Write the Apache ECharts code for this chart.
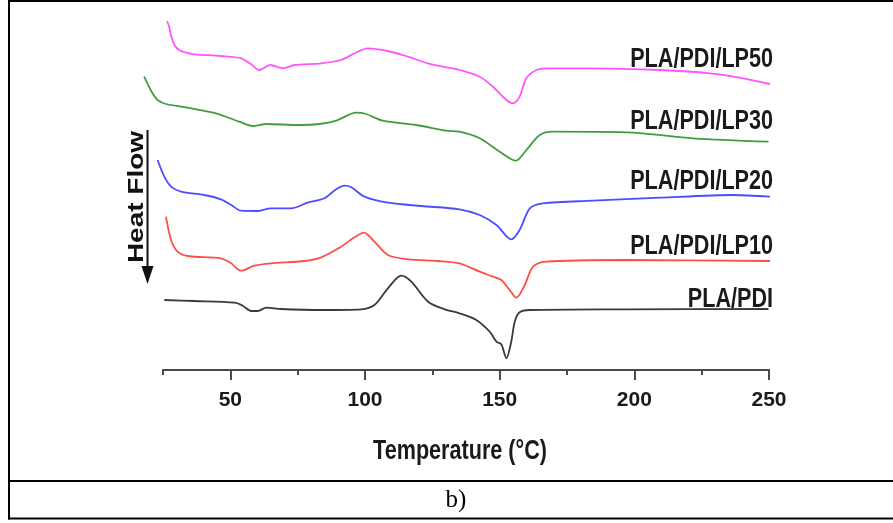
<!DOCTYPE html>
<html>
<head>
<meta charset="utf-8">
<script src="https://cdn.jsdelivr.net/npm/echarts@6/dist/echarts.min.js"></script>
<style>html,body{margin:0;padding:0;background:#fff}#c{width:893px;height:523px}</style>
</head>
<body>
<div id="c"></div>
<script>
// ---- data (temperature °C, heat flow in arbitrary units) ----
const seriesNames = ['PLA/PDI/LP50', 'PLA/PDI/LP30', 'PLA/PDI/LP20', 'PLA/PDI/LP10', 'PLA/PDI'];
const seriesColors = ['#ff55ff', '#3f9c3f', '#4d4dff', '#ff4d4d', '#3a3a3a'];

const lp50 = [[26.5,349],[27.3,343.3],[28.1,333.3],[29.4,324.3],[31,320],[33.5,317.3],[36.6,315.7],[46.5,314],[54,311.7],[57.7,305.7],[60.8,300],[64.9,305],[69.5,301.7],[73.8,305],[83.7,306.7],[91.1,310],[96.1,316.7],[101,321.7],[108.5,319],[115.9,313.3],[123.3,306.7],[130.8,302.3],[135.1,300],[142.6,293.3],[147.5,283.3],[152.5,270],[155,266.7],[157.4,273.3],[159.9,291.7],[163.6,300],[167.3,301.7],[184.7,301.7],[209.5,300],[228.1,296.7],[240.5,291.7],[250.4,286]];
const lp30 = [[18,293.3],[19.2,286.7],[21.1,276.7],[23,270],[26.1,266],[33.5,262.7],[44.7,256.7],[53.3,248.3],[58.3,244],[63.3,246],[75.7,245],[83.1,246],[89.3,249.3],[96.7,257.3],[100.4,256],[106.6,249.3],[119,245],[130.2,239.3],[135.1,238.3],[142.6,231.7],[150,218.3],[156,209.3],[159.9,220],[164.9,235],[169.8,238.3],[197.1,237.7],[221.9,231.7],[249.8,228.3]];
const lp20 = [[23,210],[25.5,193.3],[28,183.3],[31.7,178.3],[40.3,175],[46.5,170.7],[50.3,165],[54,159.3],[60.2,159],[65.1,161.7],[72.6,161.7],[78.7,167.3],[84.9,171.7],[89.3,180.7],[92.4,184.3],[94.9,182.7],[99.8,173.3],[108.5,167.3],[120.9,164],[135.1,160.7],[142.6,155],[148.8,145],[154.3,130.7],[157.4,140],[161.2,161.7],[166.1,166.7],[184.7,169.3],[209.5,172.3],[236.7,175],[250.4,173.3]];
const lp10 = [[26.1,153.3],[28,130],[30.4,118.3],[34.1,114],[46.5,111.7],[50.3,106.7],[54,99.3],[58.9,104.3],[65.1,106.7],[77.5,109],[83.7,112.7],[91.1,123.3],[96.1,132.7],[99.6,137.3],[103.5,128.3],[108.5,115],[115.9,110.7],[127.1,109],[135.1,106.7],[142.6,98.3],[147.5,93.3],[150.6,90],[153.7,80],[156.2,72.3],[159.3,85],[162.4,103.3],[167.3,108.3],[197.1,110],[250.4,109]];
const plaPdi = [[25.5,70],[36.6,69],[51.5,67.3],[54.6,64.3],[57.7,59],[60.2,59],[63.3,62.3],[68.8,61],[83.7,60],[98.6,60.7],[103.5,65],[108.5,81.7],[113.5,94.3],[117.2,88.3],[123.4,68.3],[129.6,60.7],[135.1,56.7],[141.3,50],[146.3,38.3],[148.8,28.3],[150.6,25.7],[152.5,11.7],[154.3,28.3],[155.6,48.3],[157.4,57.7],[161.2,60],[197.1,60.7],[249.8,61]];
const seriesData = [lp50, lp30, lp20, lp10, plaPdi];

// label anchors: right edge temperature and heat-flow level of each curve name
const labelTemp = 251.5;
const labelLevels = [310, 248.3, 188.3, 123.3, 70];

const axisMin = 25, axisMax = 250;       // drawn axis
const majorMin = 50, majorStep = 50;     // labelled ticks 50..250
const minorStep = 25;                    // small ticks every 25
const plotMin = 15;                      // curves start slightly left of the axis
const yMin = 0, yMax = 370;

const gridLeft = 163, gridRight = 124, gridTop = 0, gridBottom = 153;
const pxPerUnit = (893 - gridLeft - gridRight) / (axisMax - axisMin);

const chart = echarts.init(document.getElementById('c'), null, {renderer: 'canvas'});
const tickColor = '#4a4a4a';

chart.setOption({
  animation: false,
  backgroundColor: '#fff',
  grid: [
    {left: gridLeft, right: gridRight, top: gridTop, bottom: gridBottom},
    {left: gridLeft + (majorMin - axisMin) * pxPerUnit, right: gridRight, top: gridTop, bottom: gridBottom},
    {left: gridLeft - (axisMin - plotMin) * pxPerUnit, right: gridRight, top: gridTop, bottom: gridBottom}
  ],
  xAxis: [
    {gridIndex: 0, type: 'value', min: axisMin, max: axisMax, interval: minorStep, position: 'bottom',
      splitLine: {show: false},
      axisLine: {show: true, onZero: false, lineStyle: {color: tickColor, width: 2}},
      axisTick: {show: true, length: 5, lineStyle: {color: tickColor, width: 2}},
      axisLabel: {show: false}},
    {gridIndex: 1, type: 'value', min: majorMin, max: axisMax, interval: majorStep, position: 'bottom',
      splitLine: {show: false},
      axisLine: {show: true, onZero: false, lineStyle: {color: tickColor, width: 2}},
      axisTick: {show: true, length: 10, lineStyle: {color: tickColor, width: 2}},
      axisLabel: {show: true, margin: 20, fontFamily: "'Liberation Sans', Arial, sans-serif",
        fontWeight: 'bold', fontSize: 21, color: '#1a1a1a'}},
    {gridIndex: 2, type: 'value', min: plotMin, max: axisMax, show: false}
  ],
  yAxis: [
    {gridIndex: 0, type: 'value', min: yMin, max: yMax, show: false},
    {gridIndex: 1, type: 'value', min: yMin, max: yMax, show: false},
    {gridIndex: 2, type: 'value', min: yMin, max: yMax, show: false}
  ],
  series: seriesNames.map((n, i) => ({
    name: n, type: 'line', xAxisIndex: 2, yAxisIndex: 2, data: seriesData[i],
    showSymbol: false, clip: false, smooth: 0.3,
    lineStyle: {color: seriesColors[i], width: 1.8},
    itemStyle: {color: seriesColors[i]}
  }))
});

const labelGraphics = seriesNames.map((n, i) => {
  const p = chart.convertToPixel({xAxisIndex: 2, yAxisIndex: 2}, [labelTemp, labelLevels[i]]);
  return {
    type: 'text', x: p[0], y: p[1], scaleX: 0.8, silent: true, z: 10,
    style: {text: n, font: "bold 27px 'Liberation Sans', Arial, sans-serif", fill: '#1a1a1a', align: 'right', verticalAlign: 'middle'}
  };
});

chart.setOption({
  graphic: [
    {type: 'line', shape: {x1: 9, y1: 0, x2: 9, y2: 519.5}, style: {stroke: '#000', lineWidth: 2}, silent: true},
    {type: 'line', shape: {x1: 8, y1: 1, x2: 893, y2: 1}, style: {stroke: '#000', lineWidth: 2}, silent: true},
    {type: 'line', shape: {x1: 8, y1: 481, x2: 893, y2: 481}, style: {stroke: '#000', lineWidth: 2}, silent: true},
    {type: 'line', shape: {x1: 8, y1: 518.5, x2: 893, y2: 518.5}, style: {stroke: '#000', lineWidth: 2}, silent: true},
    {type: 'text', x: 136.5, y: 197, rotation: Math.PI / 2, scaleY: 0.8, silent: true,
      style: {text: 'Heat Flow', font: "bold 28px 'Liberation Sans', Arial, sans-serif", fill: '#111', align: 'center', verticalAlign: 'middle'}},
    {type: 'line', shape: {x1: 147.5, y1: 130, x2: 147.5, y2: 268}, style: {stroke: '#111', lineWidth: 2}, silent: true},
    {type: 'polygon', shape: {points: [[141.5, 266], [153.5, 266], [147.5, 284]]}, style: {fill: '#111'}, silent: true},
    {type: 'text', x: 460, y: 452, scaleX: 0.8, silent: true,
      style: {text: 'Temperature (°C)', font: "bold 27px 'Liberation Sans', Arial, sans-serif", fill: '#1a1a1a', align: 'center', verticalAlign: 'middle'}},
    {type: 'text', x: 456, y: 500, silent: true,
      style: {text: 'b)', font: "25px 'Liberation Serif', 'Times New Roman', serif", fill: '#000', align: 'center', verticalAlign: 'middle'}}
  ].concat(labelGraphics)
});
</script>
</body>
</html>
